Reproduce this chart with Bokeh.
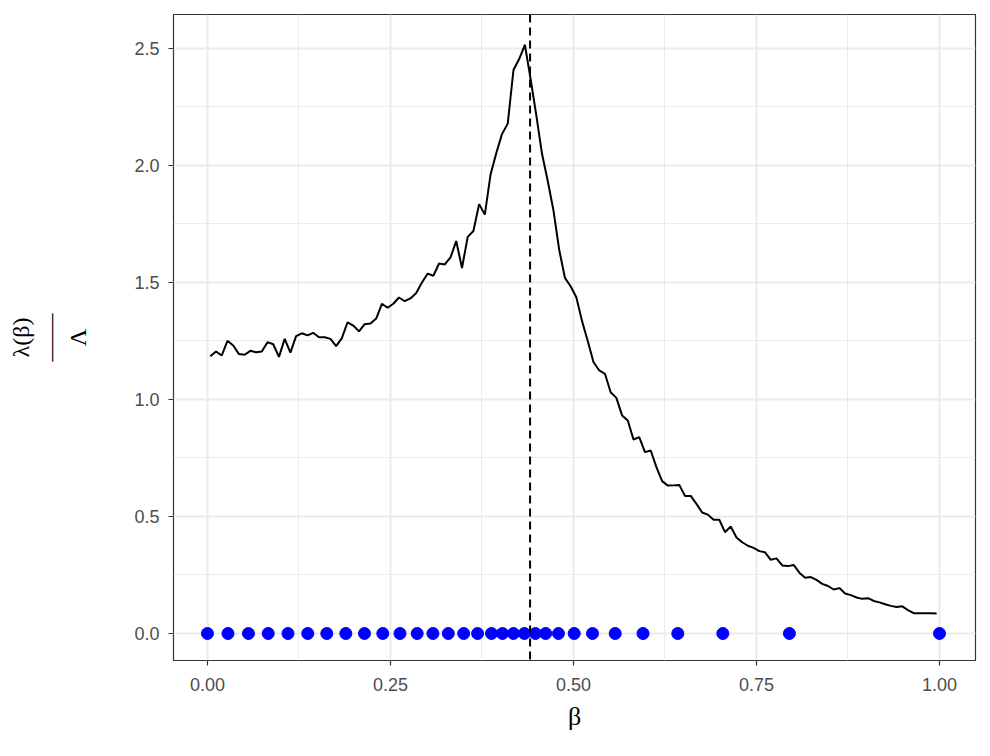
from bokeh.plotting import figure
from bokeh.models import FixedTicker, Span, Range1d, CustomJSTickFormatter
from bokeh.embed import file_html
from bokeh.resources import INLINE

# line: lambda(beta)/Lambda against beta
beta_line = [0.0039, 0.0117, 0.0195, 0.0273, 0.0352, 0.0430, 0.0508, 0.0586, 0.0664, 0.0742,
             0.0820, 0.0898, 0.0977, 0.1055, 0.1133, 0.1211, 0.1289, 0.1367, 0.1445, 0.1523,
             0.1602, 0.1680, 0.1758, 0.1836, 0.1914, 0.1992, 0.2070, 0.2148, 0.2227, 0.2305,
             0.2383, 0.2461, 0.2539, 0.2617, 0.2695, 0.2773, 0.2852, 0.2930, 0.3008, 0.3086,
             0.3164, 0.3242, 0.3320, 0.3398, 0.3477, 0.3555, 0.3633, 0.3711, 0.3789, 0.3867,
             0.3945, 0.4023, 0.4102, 0.4180, 0.4258, 0.4336, 0.4414, 0.4492, 0.4570, 0.4648,
             0.4727, 0.4805, 0.4883, 0.4961, 0.5039, 0.5117, 0.5195, 0.5273, 0.5352, 0.5430,
             0.5508, 0.5586, 0.5664, 0.5742, 0.5820, 0.5898, 0.5977, 0.6055, 0.6133, 0.6211,
             0.6289, 0.6367, 0.6445, 0.6523, 0.6602, 0.6680, 0.6758, 0.6836, 0.6914, 0.6992,
             0.7070, 0.7148, 0.7227, 0.7305, 0.7383, 0.7461, 0.7539, 0.7617, 0.7695, 0.7773,
             0.7852, 0.7930, 0.8008, 0.8086, 0.8164, 0.8242, 0.8320, 0.8398, 0.8477, 0.8555,
             0.8633, 0.8711, 0.8789, 0.8867, 0.8945, 0.9023, 0.9102, 0.9180, 0.9258, 0.9336,
             0.9414, 0.9492, 0.9570, 0.9648, 0.9727, 0.9805, 0.9883, 0.9961]
ratio_line = [1.185, 1.205, 1.188, 1.251, 1.231, 1.194, 1.191, 1.208, 1.202, 1.205,
              1.245, 1.236, 1.182, 1.259, 1.200, 1.271, 1.283, 1.274, 1.285, 1.266,
              1.266, 1.259, 1.228, 1.262, 1.330, 1.316, 1.291, 1.322, 1.325, 1.346,
              1.409, 1.392, 1.409, 1.436, 1.420, 1.432, 1.455, 1.500, 1.538, 1.529,
              1.581, 1.577, 1.607, 1.677, 1.562, 1.695, 1.720, 1.835, 1.790, 1.961,
              2.052, 2.134, 2.179, 2.408, 2.455, 2.516, 2.370, 2.215, 2.050, 1.935,
              1.807, 1.640, 1.520, 1.484, 1.437, 1.335, 1.250, 1.160, 1.124, 1.110,
              1.031, 1.007, 0.932, 0.910, 0.829, 0.839, 0.775, 0.782, 0.711, 0.651,
              0.632, 0.633, 0.635, 0.588, 0.588, 0.554, 0.517, 0.508, 0.486, 0.486,
              0.433, 0.457, 0.410, 0.390, 0.375, 0.366, 0.352, 0.347, 0.315, 0.321,
              0.291, 0.288, 0.293, 0.260, 0.238, 0.241, 0.229, 0.212, 0.203, 0.188,
              0.194, 0.171, 0.164, 0.154, 0.148, 0.151, 0.139, 0.133, 0.125, 0.118,
              0.113, 0.116, 0.100, 0.087, 0.087, 0.087, 0.086, 0.085]

# blue points on the axis
beta_points = [0.0, 0.028, 0.056, 0.083, 0.110, 0.137, 0.163, 0.189, 0.2145, 0.2395,
               0.263, 0.2865, 0.308, 0.329, 0.350, 0.369, 0.388, 0.403, 0.418, 0.433,
               0.448, 0.462, 0.4795, 0.501, 0.526, 0.557, 0.595, 0.6425, 0.704, 0.795, 1.0]
value_points = [0.0] * len(beta_points)

beta_critical = 0.4407

x_ticks = [0.0, 0.25, 0.5, 0.75, 1.0]
x_minor = [0.125, 0.375, 0.625, 0.875]
y_ticks = [0.0, 0.5, 1.0, 1.5, 2.0, 2.5]
y_minor = [0.25, 0.75, 1.25, 1.75, 2.25]

p = figure(width=990, height=756, output_backend="svg", toolbar_location=None,
           x_range=Range1d(-0.0464, 1.0492), y_range=Range1d(-0.1154, 2.6453),
           min_border_left=173, min_border_right=15, min_border_top=14, min_border_bottom=96)

p.background_fill_color = "white"
p.border_fill_color = "white"
p.outline_line_color = "#333333"
p.outline_line_width = 1.2

grid_col = "#EBEBEB"
p.xgrid.ticker = FixedTicker(ticks=x_ticks, minor_ticks=x_minor)
p.ygrid.ticker = FixedTicker(ticks=y_ticks, minor_ticks=y_minor)
for g in (p.xgrid, p.ygrid):
    g.grid_line_color = grid_col
    g.grid_line_width = 2
    g.minor_grid_line_color = grid_col
    g.minor_grid_line_width = 1

p.xaxis.ticker = FixedTicker(ticks=x_ticks, minor_ticks=[])
p.yaxis.ticker = FixedTicker(ticks=y_ticks, minor_ticks=[])
p.xaxis.formatter = CustomJSTickFormatter(code="return tick.toFixed(2);")
p.yaxis.formatter = CustomJSTickFormatter(code="return tick.toFixed(1);")

for ax in (p.xaxis[0], p.yaxis[0]):
    ax.axis_line_color = None
    ax.major_tick_line_color = "#333333"
    ax.major_tick_line_width = 1.2
    ax.major_tick_out = 5
    ax.major_tick_in = 0
    ax.minor_tick_line_color = None
    ax.major_label_text_font = "Liberation Sans"
    ax.major_label_text_font_size = "18px"
    ax.major_label_text_color = "#4D4D4D"

p.yaxis.major_label_standoff = 9
p.xaxis.major_label_standoff = 12

p.xaxis.axis_label = "β"
p.xaxis.axis_label_text_font = "Liberation Serif"
p.xaxis.axis_label_text_font_style = "normal"
p.xaxis.axis_label_text_font_size = "26px"
p.xaxis.axis_label_text_color = "black"
p.xaxis.axis_label_standoff = 8

# y axis title as a fraction: lambda(beta) over Lambda
p.yaxis.axis_label = "λ(β)\n——\nΛ"
p.yaxis.axis_label_text_font = "Liberation Serif"
p.yaxis.axis_label_text_font_style = "normal"
p.yaxis.axis_label_text_font_size = "24px"
p.yaxis.axis_label_text_color = "black"
p.yaxis.axis_label_text_line_height = 1.1
p.yaxis.axis_label_standoff = 40

p.line(beta_line, ratio_line, line_color="black", line_width=2)
p.scatter(beta_points, value_points, size=12, fill_color="blue", line_color="blue")
p.add_layout(Span(location=beta_critical, dimension="height", line_color="black",
                  line_width=2, line_dash="8 5"))

open("out.html", "w").write(file_html(p, INLINE))
